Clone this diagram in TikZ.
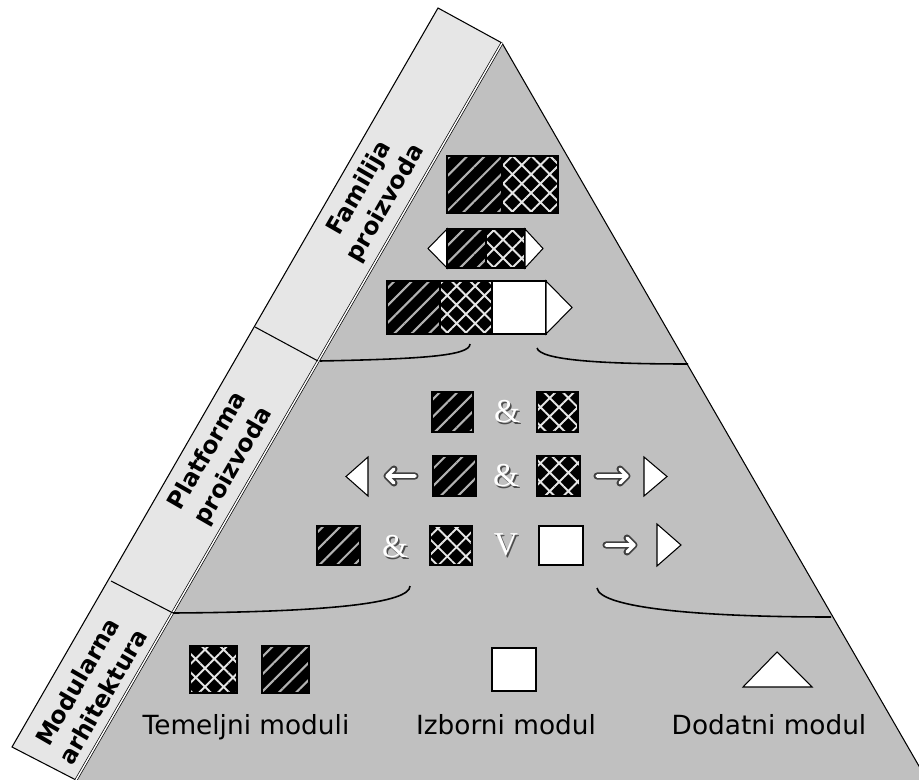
\documentclass[tikz,border=0pt]{standalone}
\usepackage{fontspec}
\setmainfont{DejaVu Sans}
\newfontfamily\ampfont{Liberation Serif}
\usetikzlibrary{patterns.meta}

\definecolor{pyramidgray}{RGB}{192,192,192}
\definecolor{bandgray}{RGB}{230,230,230}

\tikzset{
  stripedmod/.style={preaction={fill=black}, pattern={Lines[angle=45,distance=7pt,line width=1.2pt]},
    pattern color=white!70!black, draw=black, line width=0.6pt},
  hatchedmod/.style={preaction={fill=black}, pattern={Hatch[angle=45,distance=7.5pt,line width=1.1pt]},
    pattern color=white!90!black, draw=black, line width=0.6pt},
  whitemod/.style={draw=black, fill=white, line width=0.6pt},
  sidelabel/.style={rotate=60, align=center, font=\bfseries\fontsize{13.5}{17}\selectfont},
  modlabel/.style={anchor=base, inner sep=0pt, font=\fontsize{15}{18}\selectfont},
  embossed/.style={text=white, font=\ampfont\fontsize{19}{19}\selectfont},
  embshadow/.style={text=black!70, font=\ampfont\fontsize{19}{19}\selectfont},
  divider/.style={line width=0.9pt},
}

% outlined white arrow: tail x, tip x, head start x, y
\newcommand{\hollowarrow}[4]{%
  \foreach \lw/\lc in {4pt/black!75, 2pt/white}
    \draw[\lc, line width=\lw, line cap=round, line join=round]
      (#1,#4) -- (#2,#4) (#3,#4-7) -- (#2,#4) -- (#3,#4+7);
}

\begin{document}
\begin{tikzpicture}[x=0.02cm, y=-0.02cm]
  \useasboundingbox (0,0) rectangle (919,780);
  \clip (0,0) rectangle (919,780);

  \coordinate (apex) at (502,43);
  \coordinate (bl) at (76,780);
  \coordinate (br) at (927,780);
  \coordinate (bandtop) at (438,8);
  \coordinate (bandbot) at (12,747);

  % band and pyramid
  \fill[bandgray] (bandtop) -- (apex) -- (bl) -- (bandbot) -- cycle;
  \fill[pyramidgray] (apex) -- (br) -- (bl) -- cycle;
  \draw[line width=0.6pt] (bl) -- (bandbot) -- (bandtop) -- (apex) -- (br);
  \draw[double, double distance=0.8pt, line width=0.4pt] (apex) -- (bl);
  \draw[line width=0.6pt] (255,327) -- (318,361);
  \draw[line width=0.6pt] (111,581) -- (173,613);

  % level borders
  \draw[divider] (320,361) .. controls (420,359) and (470,356) .. (470,344);
  \draw[divider] (537,348) .. controls (540,360) and (600,364) .. (688,364);
  \draw[divider] (173,613) .. controls (330,612) and (410,603) .. (410,586);
  \draw[divider] (597,588) .. controls (600,608) and (700,617) .. (831,617);

  % Familija proizvoda
  \draw[stripedmod] (447,156) rectangle (502,213);
  \draw[hatchedmod] (502,156) rectangle (558,213);

  \draw[whitemod] (447,229) -- (428,248.5) -- (447,268) -- cycle;
  \draw[stripedmod] (447,229) rectangle (486,268);
  \draw[hatchedmod] (486,229) rectangle (525,268);
  \draw[whitemod] (525,229) -- (543,248.5) -- (525,268) -- cycle;

  \draw[stripedmod] (387,281) rectangle (440,334);
  \draw[hatchedmod] (440,281) rectangle (492,334);
  \draw[whitemod] (492,281) rectangle (546,334);
  \draw[whitemod] (546,281) -- (572,307.5) -- (546,334) -- cycle;

  % Platforma proizvoda
  \draw[stripedmod] (432,392) rectangle (473,432);
  \node[embshadow] at (508.5,413.5) {\&};
  \node[embossed] (and1) at (507,412) {\&};
  \draw[hatchedmod] (537,392) rectangle (578,432);

  \draw[whitemod] (368,457) -- (346,476.5) -- (368,496) -- cycle;
  \hollowarrow{415}{387}{394}{476}
  \draw[stripedmod] (433,456) rectangle (476,496);
  \node[embshadow] at (507.5,477.5) {\&};
  \node[embossed] (and2) at (506,476) {\&};
  \draw[hatchedmod] (537,456) rectangle (580,496);
  \hollowarrow{597}{627}{620}{476}
  \draw[whitemod] (644,457) -- (667,476.5) -- (644,496) -- cycle;

  \draw[stripedmod] (317,526) rectangle (360,565);
  \node[embshadow] at (396.5,548.5) {\&};
  \node[embossed] (and3) at (395,547) {\&};
  \draw[hatchedmod] (430,526) rectangle (472,565);
  \node[embshadow] at (507.5,546.5) {V};
  \node[embossed] (or1) at (506,545) {V};
  \draw[whitemod] (539,526) rectangle (583,565);
  \hollowarrow{606}{634}{627}{545}
  \draw[whitemod] (657,524) -- (681,545) -- (657,566) -- cycle;

  % Modularna arhitektura
  \draw[hatchedmod] (190,646) rectangle (237,693);
  \draw[stripedmod] (262,646) rectangle (309,693);
  \draw[whitemod] (492,648) rectangle (536,691);
  \draw[whitemod] (743,687) -- (777,652) -- (812,687) -- cycle;

  \node[modlabel] (temelj) at (246,734) {Temeljni moduli};
  \node[modlabel] (izbor) at (506,734) {Izborni modul};
  \node[modlabel] (dodat) at (769,734) {Dodatni modul};

  % band labels
  \node[sidelabel] (famlabel) at (373,196) {Familija\\proizvoda};
  \node[sidelabel] (platlabel) at (221,459) {Platforma\\proizvoda};
  \node[sidelabel] (modlabel) at (90,689) {Modularna\\arhitektura};
\end{tikzpicture}
\end{document}
